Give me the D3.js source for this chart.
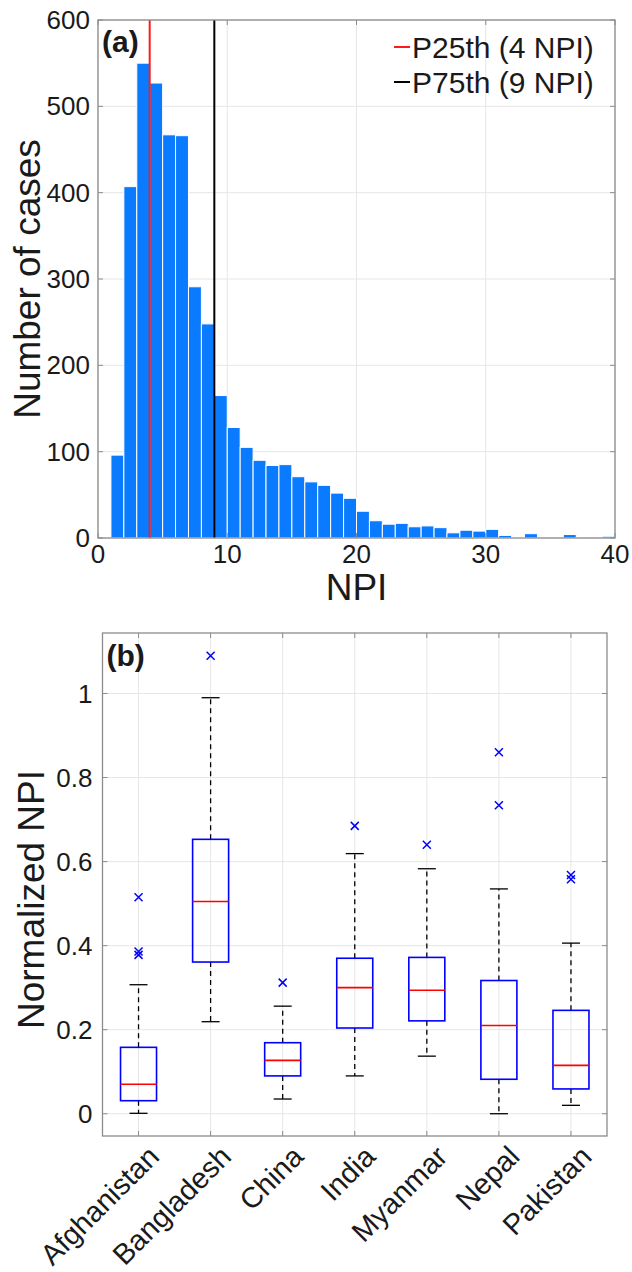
<!DOCTYPE html>
<html>
<head>
<meta charset="utf-8">
<script src="https://cdn.jsdelivr.net/npm/d3@7"></script>
<style>
  body { margin: 0; background: #fff; }
  text { font-family: 'Liberation Sans', Arial, Helvetica, sans-serif; fill: #1a1a1a; }
</style>
</head>
<body>
<div id="chart"></div>
<script>
// histogram counts, one per unit bin starting at 0
let binStarts = d3.range(0, 40)
let counts = [0, 96, 407, 550, 527, 467, 466, 291, 248, 165,
              128, 105, 90, 84, 85, 71, 65, 61, 52, 46,
              31, 20, 16, 17, 13, 14, 12, 6, 9, 8,
              10, 3, 1, 5, 0, 0, 4, 0, 0, 2]
let histXTicks = [0, 10, 20, 30, 40]
let histYTicks = [0, 100, 200, 300, 400, 500, 600]
let percentiles = [
    { label: 'P25th (4 NPI)', value: 4, color: '#ff1a1a' },
    { label: 'P75th (9 NPI)', value: 9, color: '#000000' }
]

// box plot summary per country
let countries = ['Afghanistan', 'Bangladesh', 'China', 'India', 'Myanmar', 'Nepal', 'Pakistan']
let q1 = [0.031, 0.361, 0.090, 0.204, 0.221, 0.082, 0.059]
let medians = [0.070, 0.505, 0.127, 0.300, 0.294, 0.210, 0.115]
let q3 = [0.158, 0.653, 0.169, 0.370, 0.372, 0.317, 0.246]
let whiskLow = [0.001, 0.219, 0.035, 0.090, 0.137, 0.000, 0.020]
let whiskHigh = [0.307, 0.990, 0.256, 0.619, 0.583, 0.535, 0.406]
let outliers = [[0.515, 0.386, 0.378], [1.09], [0.312], [0.685], [0.640], [0.860, 0.734], [0.568, 0.558]]
let boxYTicks = [0, 0.2, 0.4, 0.6, 0.8, 1]

let width = 632, height = 1272
let svg = d3.select('#chart').append('svg')
    .attr('width', width)
    .attr('height', height)

let axisColor = '#8c8c8c'
let gridColor = '#e6e6e6'
let tickFont = 26
let labelFont = 37

// grid lines behind the marks
function frame(g, x, y, xTicks, yTicks, xr, yr) {
    g.append('g').selectAll('line').data(xTicks).enter().append('line')
        .attr('x1', d => x(d)).attr('x2', d => x(d))
        .attr('y1', yr[0]).attr('y2', yr[1])
        .attr('stroke', gridColor)
    g.append('g').selectAll('line').data(yTicks).enter().append('line')
        .attr('y1', d => y(d)).attr('y2', d => y(d))
        .attr('x1', xr[0]).attr('x2', xr[1])
        .attr('stroke', gridColor)
}

// box outline and inward ticks on all four sides
function box(g, x, y, xTicks, yTicks, xr, yr) {
    let t = 5
    g.append('rect')
        .attr('x', xr[0]).attr('y', yr[1])
        .attr('width', xr[1] - xr[0]).attr('height', yr[0] - yr[1])
        .attr('fill', 'none').attr('stroke', axisColor).attr('stroke-width', 1.3)
    xTicks.forEach(d => {
        g.append('line').attr('x1', x(d)).attr('x2', x(d)).attr('y1', yr[0]).attr('y2', yr[0] - t).attr('stroke', axisColor)
        g.append('line').attr('x1', x(d)).attr('x2', x(d)).attr('y1', yr[1]).attr('y2', yr[1] + t).attr('stroke', axisColor)
    })
    yTicks.forEach(d => {
        g.append('line').attr('y1', y(d)).attr('y2', y(d)).attr('x1', xr[0]).attr('x2', xr[0] + t).attr('stroke', axisColor)
        g.append('line').attr('y1', y(d)).attr('y2', y(d)).attr('x1', xr[1]).attr('x2', xr[1] - t).attr('stroke', axisColor)
    })
}

// ---- (a) histogram ----
let ax = { left: 98, right: 615, top: 20, bottom: 538 }

let x = d3.scaleLinear().domain([0, 40]).range([ax.left, ax.right])
let y = d3.scaleLinear().domain([0, 600]).range([ax.bottom, ax.top])

let ga = svg.append('g').attr('class', 'hist')
frame(ga, x, y, histXTicks, histYTicks, [ax.left, ax.right], [ax.bottom, ax.top])

ga.append('g').selectAll('rect')
    .data(binStarts.map((b, i) => ({ start: b, count: counts[i] })).filter(d => d.count > 0))
    .enter().append('rect')
    .attr('x', d => x(d.start))
    .attr('width', d => x(d.start + 1) - x(d.start))
    .attr('y', d => y(d.count))
    .attr('height', d => y(0) - y(d.count))
    .attr('fill', '#0a7bff')
    .attr('stroke', '#ffffff')
    .attr('stroke-width', 1)

ga.append('g').selectAll('line')
    .data(percentiles)
    .enter().append('line')
    .attr('x1', d => x(d.value)).attr('x2', d => x(d.value))
    .attr('y1', ax.top).attr('y2', ax.bottom)
    .attr('stroke', d => d.color)
    .attr('stroke-width', 2)

box(ga, x, y, histXTicks, histYTicks, [ax.left, ax.right], [ax.bottom, ax.top])

ga.append('g').selectAll('text')
    .data(histYTicks)
    .enter().append('text')
    .attr('x', ax.left - 8)
    .attr('y', d => y(d))
    .attr('dy', '0.35em')
    .attr('text-anchor', 'end')
    .attr('font-size', tickFont)
    .text(d => d)

ga.append('g').selectAll('text')
    .data(histXTicks)
    .enter().append('text')
    .attr('x', d => x(d))
    .attr('y', ax.bottom + 16)
    .attr('text-anchor', 'middle')
    .attr('font-size', tickFont)
    .attr('dy', '0.35em')
    .text(d => d)

ga.append('text')
    .attr('x', (ax.left + ax.right) / 2)
    .attr('y', 600)
    .attr('text-anchor', 'middle')
    .attr('font-size', labelFont)
    .text('NPI')

ga.append('text')
    .attr('transform', `translate(40,${(ax.top + ax.bottom) / 2}) rotate(-90)`)
    .attr('text-anchor', 'middle')
    .attr('font-size', labelFont)
    .text('Number of cases')

ga.append('text')
    .attr('x', ax.left + 4)
    .attr('y', 52)
    .attr('font-size', 30)
    .attr('font-weight', 'bold')
    .text('(a)')

let legend = ga.append('g').selectAll('g')
    .data(percentiles)
    .enter().append('g')
    .attr('transform', (d, i) => `translate(412,${47 + i * 35})`)
legend.append('line')
    .attr('x1', -18).attr('x2', -2)
    .attr('stroke', d => d.color).attr('stroke-width', 2)
legend.append('text')
    .attr('dy', '0.35em')
    .attr('font-size', 30)
    .text(d => d.label)

// ---- (b) box plot ----
let bx = { left: 102.5, right: 607, top: 633, bottom: 1136 }

let xb = d3.scaleLinear().domain([0.5, 7.5]).range([bx.left, bx.right])
let yb = d3.scaleLinear().domain([-0.053, 1.144]).range([bx.bottom, bx.top])
let xTicksB = d3.range(1, 8)

let gb = svg.append('g').attr('class', 'boxes')
frame(gb, xb, yb, xTicksB, boxYTicks, [bx.left, bx.right], [bx.bottom, bx.top])

let stats = countries.map((c, i) => ({
    name: c, pos: i + 1, q1: q1[i], med: medians[i], q3: q3[i],
    lo: whiskLow[i], hi: whiskHigh[i], out: outliers[i]
}))

let halfBox = 18, halfCap = 9
let item = gb.append('g').selectAll('g').data(stats).enter().append('g')

item.append('line')
    .attr('x1', d => xb(d.pos)).attr('x2', d => xb(d.pos))
    .attr('y1', d => yb(d.q3)).attr('y2', d => yb(d.hi))
    .attr('stroke', '#000').attr('stroke-width', 1.3).attr('stroke-dasharray', '5,4')
item.append('line')
    .attr('x1', d => xb(d.pos)).attr('x2', d => xb(d.pos))
    .attr('y1', d => yb(d.q1)).attr('y2', d => yb(d.lo))
    .attr('stroke', '#000').attr('stroke-width', 1.3).attr('stroke-dasharray', '5,4')
item.append('line')
    .attr('x1', d => xb(d.pos) - halfCap).attr('x2', d => xb(d.pos) + halfCap)
    .attr('y1', d => yb(d.hi)).attr('y2', d => yb(d.hi))
    .attr('stroke', '#000').attr('stroke-width', 1.3)
item.append('line')
    .attr('x1', d => xb(d.pos) - halfCap).attr('x2', d => xb(d.pos) + halfCap)
    .attr('y1', d => yb(d.lo)).attr('y2', d => yb(d.lo))
    .attr('stroke', '#000').attr('stroke-width', 1.3)
item.append('rect')
    .attr('x', d => xb(d.pos) - halfBox)
    .attr('width', halfBox * 2)
    .attr('y', d => yb(d.q3))
    .attr('height', d => yb(d.q1) - yb(d.q3))
    .attr('fill', 'none').attr('stroke', '#0000ff').attr('stroke-width', 1.6)
item.append('line')
    .attr('x1', d => xb(d.pos) - halfBox).attr('x2', d => xb(d.pos) + halfBox)
    .attr('y1', d => yb(d.med)).attr('y2', d => yb(d.med))
    .attr('stroke', '#ff0000').attr('stroke-width', 1.6)

let xs = 4
item.selectAll('path')
    .data(d => d.out.map(v => ({ pos: d.pos, v: v })))
    .enter().append('path')
    .attr('d', d => {
        let cx = xb(d.pos), cy = yb(d.v)
        return `M${cx - xs},${cy - xs}L${cx + xs},${cy + xs}M${cx - xs},${cy + xs}L${cx + xs},${cy - xs}`
    })
    .attr('stroke', '#0000ff').attr('stroke-width', 1.5)

box(gb, xb, yb, xTicksB, boxYTicks, [bx.left, bx.right], [bx.bottom, bx.top])

gb.append('g').selectAll('text')
    .data(boxYTicks)
    .enter().append('text')
    .attr('x', bx.left - 10)
    .attr('y', d => yb(d))
    .attr('dy', '0.35em')
    .attr('text-anchor', 'end')
    .attr('font-size', tickFont)
    .text(d => d)

gb.append('g').selectAll('text')
    .data(stats)
    .enter().append('text')
    .attr('transform', d => `translate(${xb(d.pos) + 8},${bx.bottom + 8}) rotate(-45)`)
    .attr('text-anchor', 'end')
    .attr('dy', '0.7em')
    .attr('font-size', 29)
    .text(d => d.name)

gb.append('text')
    .attr('transform', `translate(44,${(bx.top + bx.bottom) / 2 + 15}) rotate(-90)`)
    .attr('text-anchor', 'middle')
    .attr('font-size', labelFont)
    .text('Normalized NPI')

gb.append('text')
    .attr('x', bx.left + 4)
    .attr('y', 666)
    .attr('font-size', 30)
    .attr('font-weight', 'bold')
    .text('(b)')
</script>
</body>
</html>
